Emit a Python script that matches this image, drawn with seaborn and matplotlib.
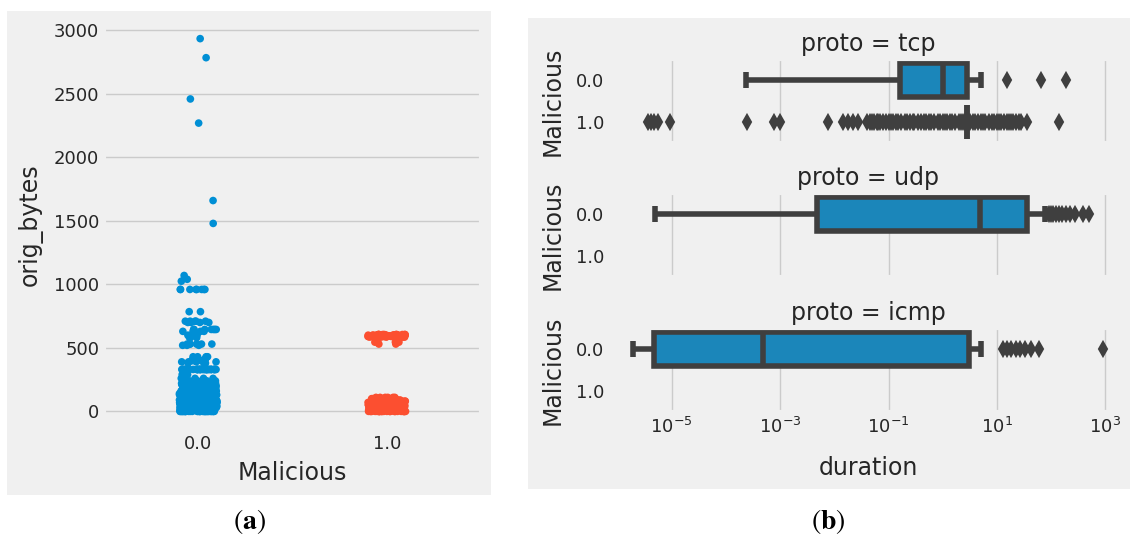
import numpy as np
import pandas as pd
import matplotlib.pyplot as plt
from matplotlib.patches import Rectangle
import seaborn as sns

# ---------------------------------------------
# (a) orig_bytes per Malicious class: value + how many points sit there
benign_bytes = [2935, 2785, 2460, 2270, 1660, 1480, 1070, 1040, 1025, 960, 785, 710,
                700, 645, 630, 600, 580, 530, 520, 430, 415, 400, 390, 380, 330, 290,
                260, 240, 220, 210, 200, 190, 180, 160, 150, 140, 130, 120, 100,
                90, 80, 70, 60, 50, 40, 30, 20, 10, 0]
benign_counts = [1, 1, 1, 1, 1, 1, 1, 1, 1, 8, 2, 5,
                 4, 7, 4, 3, 3, 6, 3, 4, 3, 4, 4, 3, 40, 3,
                 5, 7, 12, 10, 14, 10, 12, 16, 14, 22, 20, 20, 22,
                 20, 20, 22, 22, 22, 22, 22, 24, 24, 36]
mal_bytes = [605, 600, 595, 590, 585, 545, 530, 110, 100, 90, 80, 70, 60, 50, 40, 30,
             20, 10, 0]
mal_counts = [10, 18, 20, 18, 12, 4, 2, 6, 10, 14, 16, 18, 18, 18, 18, 18, 18, 20, 30]

# (b) duration per proto / Malicious
tcp_benign_dur = [2.4e-4, 0.003, 0.03, 0.1, 0.16, 0.3, 0.5, 0.8, 1.0, 1.5, 2.0, 2.5, 2.8,
                  5.0, 15, 65, 190]
# malicious tcp: almost every flow lasts 2.8 s, the rest are all outliers
tcp_mal_mode = 2.8
tcp_mal_mode_count = 220
tcp_mal_other = [3.6e-6, 4.2e-6, 4.8e-6, 5.6e-6, 9.3e-6, 2.5e-4, 7.8e-4, 1.0e-3, 7.8e-3,
                 0.0145, 0.018, 0.022, 0.027, 0.04, 0.045, 0.05, 0.055, 0.06, 0.065, 0.07,
                 0.08, 0.09, 0.1, 0.11, 0.12, 0.135, 0.15, 0.17, 0.2, 0.22, 0.25, 0.28,
                 0.3, 0.35, 0.4, 0.45, 0.5, 0.55, 0.6, 0.7, 0.8, 0.9, 1.0, 1.1, 1.2, 1.35,
                 1.5, 1.7, 2.0, 2.2, 2.4, 2.6,
                 3.0, 3.2, 3.6, 4, 4.5, 5, 5.5, 6, 7, 8, 9, 10, 11, 12, 13.5, 15, 16.5, 18,
                 20, 22, 25, 28, 36, 140]
udp_benign_dur = [5e-6, 8e-6, 1.2e-5, 2e-5, 4e-5, 8e-5, 1.5e-4, 3e-4, 5e-4, 8e-4, 1.2e-3,
                  2e-3, 3e-3, 4e-3, 4.8e-3, 6e-3, 8e-3, 0.012, 0.02, 0.04, 0.07, 0.1, 0.2,
                  0.4, 0.7, 1.2, 2.0, 3.2, 4.8, 5.5, 6.5, 7.5, 9, 11, 13, 15, 18, 21, 24,
                  27, 30, 33, 36, 45, 60, 78, 92, 100, 110, 125, 140, 160, 185, 220, 275,
                  390, 490]
icmp_benign_dur = [1.9e-6, 2.2e-6, 2.5e-6, 2.8e-6, 3.0e-6, 3.3e-6, 3.6e-6, 3.9e-6, 4.2e-6,
                   4.5e-6, 4.7e-6, 6e-6, 1e-5, 2e-5, 4e-5, 7e-5, 1e-4, 1.6e-4, 2.5e-4,
                   3.6e-4, 4.8e-4, 8e-4, 2e-3, 5e-3, 0.012, 0.03, 0.08, 0.2, 0.6, 1.5,
                   3.0, 5.0, 13, 15, 18, 22, 27, 33, 42, 60, 920]

protos = ["tcp", "udp", "icmp"]
classes = ["0.0", "1.0"]
colors = ["#008fd5", "#fc4f30"]
line_col = "#3f3f3f"
text_col = "#262626"

plt.style.use("fivethirtyeight")
plt.rcParams.update({"text.color": text_col, "axes.labelcolor": text_col,
                     "xtick.color": text_col, "ytick.color": text_col})
np.random.seed(3)

df_a = pd.DataFrame({
    "Malicious": ["0.0"] * sum(benign_counts) + ["1.0"] * sum(mal_counts),
    "orig_bytes": np.concatenate([np.repeat(benign_bytes, benign_counts),
                                  np.repeat(mal_bytes, mal_counts)]),
})

dur = {
    ("tcp", "0.0"): tcp_benign_dur,
    ("tcp", "1.0"): tcp_mal_other + [tcp_mal_mode] * tcp_mal_mode_count,
    ("udp", "0.0"): udp_benign_dur,
    ("icmp", "0.0"): icmp_benign_dur,
}
rows = [(p, m, v) for (p, m), vals in dur.items() for v in vals]
df_b = pd.DataFrame(rows, columns=["proto", "Malicious", "duration"])

W, H = 1130, 539
fig = plt.figure(figsize=(W / 100, H / 100), dpi=100, facecolor="white")


def px(x0, y0, x1, y1):
    # pixel box, origin top-left -> figure fraction
    return [x0 / W, 1 - y1 / H, (x1 - x0) / W, (y1 - y0) / H]


# gray panels behind each sub figure
for x0, y0, x1, y1 in [(7, 11, 491, 495), (528, 18, 1130, 489)]:
    fig.add_artist(Rectangle((x0 / W, 1 - y1 / H), (x1 - x0) / W, (y1 - y0) / H,
                             transform=fig.transFigure, facecolor="#f0f0f0",
                             edgecolor="none", zorder=-1))

TICK = 13
LAB = 17

# ---------------------------------------------
# (a) strip plot
ax = fig.add_axes(px(104, 20, 481, 430))
sns.stripplot(data=df_a, x="Malicious", y="orig_bytes", hue="Malicious", order=classes,
              hue_order=classes, palette=colors, size=5.5, legend=False, ax=ax)
ax.set_xlabel("Malicious", fontsize=LAB, labelpad=6)
ax.set_ylabel("orig_bytes", fontsize=LAB, labelpad=8)
ax.tick_params(labelsize=TICK)

# ---------------------------------------------
# (b) box plots, one row per proto
boxes = [(59, 143), (193, 277), (328, 412)]
axes_b = []
for i, (p, (top, bot)) in enumerate(zip(protos, boxes)):
    axb = fig.add_axes(px(609, top, 1127, bot), sharex=axes_b[0] if axes_b else None)
    sns.boxplot(data=df_b[df_b["proto"] == p], x="duration", y="Malicious", order=classes,
                orient="h", color=colors[0], linecolor=line_col, linewidth=4, fliersize=7,
                flierprops=dict(marker="d", markerfacecolor=line_col, markeredgewidth=1.5),
                ax=axb)
    axb.set_title(f"proto = {p}", fontsize=LAB, pad=6)
    axb.set_ylabel("Malicious", fontsize=LAB, labelpad=8)
    axb.tick_params(labelsize=TICK)
    axes_b.append(axb)

for axb in axes_b:
    axb.set_xscale("log")
axes_b[0].set_xticks([1e-5, 1e-3, 1e-1, 1e1, 1e3])
for axb in axes_b[:-1]:
    axb.set_xlabel("")
    axb.tick_params(labelbottom=False)
axes_b[-1].set_xlabel("duration", fontsize=LAB, labelpad=14)

# panel captions
fig.text(249 / W, 1 - 522 / H, r"($\mathbf{a}$)", ha="center", va="center", color="black",
         fontsize=20, family="STIXGeneral", math_fontfamily="stix")
fig.text(828 / W, 1 - 522 / H, r"($\mathbf{b}$)", ha="center", va="center", color="black",
         fontsize=20, family="STIXGeneral", math_fontfamily="stix")

fig.savefig("out.png", dpi=100, facecolor="white")
